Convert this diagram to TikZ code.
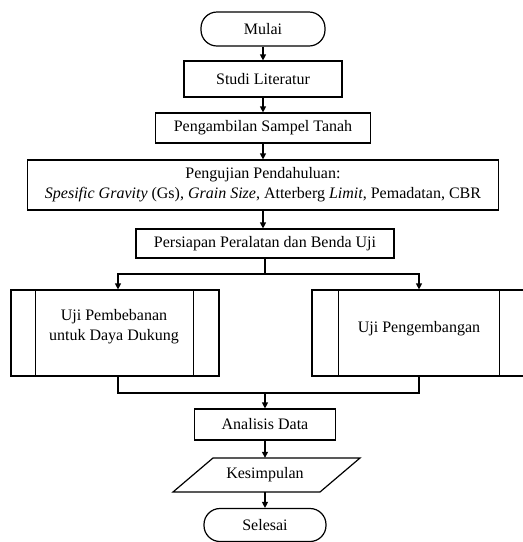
\documentclass[tikz,border=0pt]{standalone}
\usepackage{fontspec}
\setmainfont{Liberation Serif}
\usetikzlibrary{arrows.meta,calc}
\begin{document}
\begin{tikzpicture}[x=1pt,y=-1pt,
  every node/.style={font=\fontsize{16}{20}\selectfont},
  box/.style={draw,line width=1.2pt,inner sep=0pt,align=center},
  term/.style={box,rounded corners=16pt},
  arr/.style={line width=1.2pt,-{Triangle[length=6pt,width=6pt]}},
  ln/.style={line width=1.2pt}]
\useasboundingbox (0,0) rectangle (523,542);
\clip (0,0) rectangle (523,542);
\node[term,minimum width=124pt,minimum height=34pt] (mulai) at (263,29) {Mulai};
\node[box,minimum width=158pt,minimum height=36pt] (studi) at (263,79) {Studi Literatur};
\node[box,minimum width=215pt,minimum height=30pt] (ambil) at (263,128) {Pengambilan Sampel Tanah};
\node[box,minimum width=471pt,minimum height=50pt] (uji) at (263,185) {Pengujian Pendahuluan:\\\textit{Spesific Gravity} (Gs), \textit{Grain Size}, Atterberg \textit{Limit}, Pemadatan, CBR};
\node[box,minimum width=258pt,minimum height=29pt] (siap) at (265,243.5) {Persiapan Peralatan dan Benda Uji};
\node[box,minimum width=208pt,minimum height=86pt] (left) at (115,333) {};
\node[box,minimum width=214pt,minimum height=86pt] (right) at (419,333) {};
\draw[ln] ($(left.north west)+(25,0)$) -- ($(left.south west)+(25,0)$);
\draw[ln] ($(left.north east)+(-26,0)$) -- ($(left.south east)+(-26,0)$);
\draw[ln] ($(right.north west)+(27,0)$) -- ($(right.south west)+(27,0)$);
\draw[ln] ($(right.north east)+(-27,0)$) -- ($(right.south east)+(-27,0)$);
\node[align=center] (lefttxt) at (114,327) {Uji Pembebanan\\untuk Daya Dukung};
\node (righttxt) at (419,329) {Uji Pengembangan};
\node[box,minimum width=141pt,minimum height=31pt] (anal) at (265,424.5) {Analisis Data};
\node[minimum width=148pt,minimum height=34pt,inner sep=0pt] (kes) at (265,475) {Kesimpulan};
\draw[ln,line join=miter] (213,458) -- (360,458) -- (320,492) -- (173,492) -- cycle;
\node[term,minimum width=122pt,minimum height=33pt] (sel) at (265,525) {Selesai};
\draw[arr] (mulai) -- (studi);
\draw[arr] (studi) -- (ambil);
\draw[arr] (ambil) -- (uji);
\draw[arr] (uji) -- (uji.south |- siap.north);
\coordinate (split) at (265,274);
\coordinate (merge) at (265,393);
\draw[ln] (siap.south) -- (split);
\draw[arr] (split) -| ($(left.north)+(3,0)$);
\draw[arr] (split) -| (right.north);
\draw[ln] ($(left.south)+(3,0)$) |- (merge) -| (right.south);
\draw[arr] (merge) -- (anal);
\draw[arr] (anal) -- (kes.north);
\draw[arr] (kes.south) -- (sel);
\end{tikzpicture}
\end{document}
